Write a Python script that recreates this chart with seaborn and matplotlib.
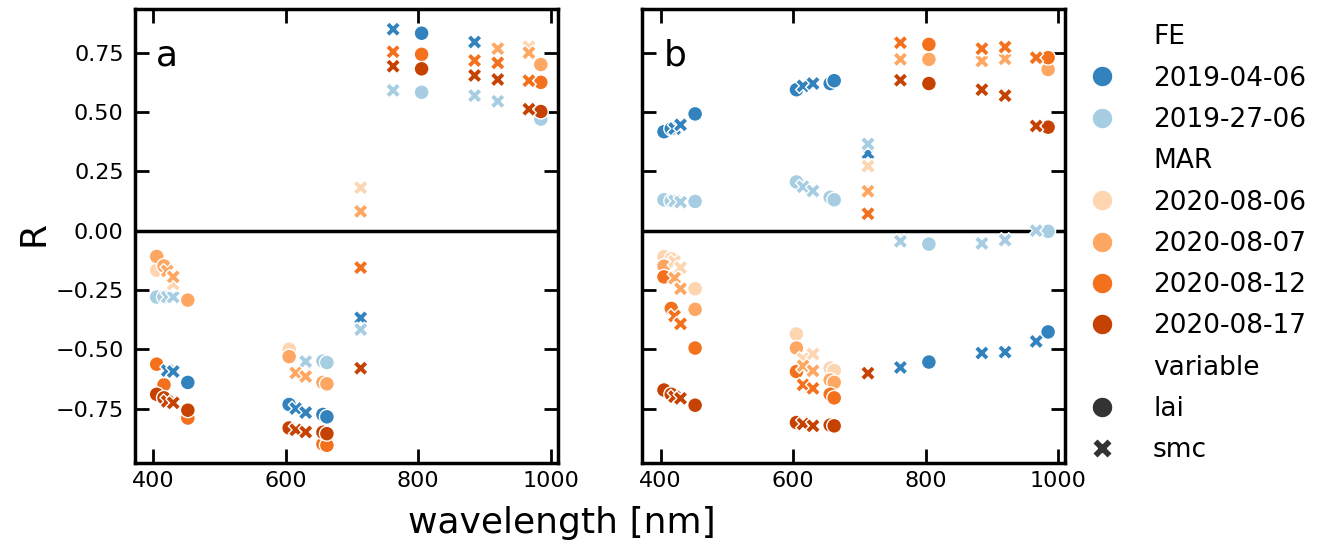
import numpy as np
import pandas as pd
import seaborn as sns
import matplotlib.pyplot as plt
from matplotlib.lines import Line2D

nan = np.nan

# hue levels and their colours
dates = ['2019-04-06', '2019-27-06', '2020-08-06', '2020-08-07', '2020-08-12', '2020-08-17']
colors = ['#3182bd', '#a6cde2', '#fdd5b0', '#fda762', '#f3711c', '#c64203']

# band centres used by each variable
wl_lai = [405, 416, 452, 605, 656, 662, 805, 985]
wl_smc = [421, 430, 615, 630, 713, 762, 885, 920, 967]

# panel a: one row per date (same order as `dates`)
a_lai = [
    [nan, nan, -0.640, -0.733, -0.775, -0.785, 0.832, nan],
    [-0.280, -0.280, nan, nan, -0.550, -0.556, 0.583, 0.470],
    [-0.167, nan, nan, -0.500, nan, nan, nan, nan],
    [-0.109, -0.149, -0.293, -0.531, -0.640, -0.646, nan, 0.700],
    [-0.563, -0.650, -0.790, nan, -0.900, -0.905, 0.743, 0.625],
    [-0.690, -0.705, -0.757, -0.832, -0.850, -0.856, 0.682, 0.502],
]
a_smc = [
    [-0.590, -0.594, -0.750, -0.767, -0.368, 0.849, 0.795, nan, nan],
    [-0.280, -0.280, nan, -0.552, -0.417, 0.591, 0.569, 0.545, nan],
    [nan, -0.225, nan, nan, 0.181, nan, nan, nan, 0.775],
    [-0.170, -0.195, -0.600, -0.615, 0.081, nan, nan, 0.767, 0.750],
    [nan, nan, nan, nan, -0.156, 0.754, 0.717, 0.707, 0.632],
    [-0.720, -0.726, -0.840, -0.849, -0.580, 0.693, 0.654, 0.637, 0.512],
]

# panel b
b_lai = [
    [0.417, 0.430, 0.492, 0.594, 0.620, 0.632, -0.554, -0.427],
    [0.130, 0.125, 0.123, 0.205, 0.140, 0.130, -0.057, -0.003],
    [-0.110, -0.119, -0.245, -0.436, -0.580, -0.590, nan, nan],
    [-0.150, -0.198, -0.332, -0.495, -0.630, -0.640, 0.722, 0.679],
    [-0.195, -0.328, -0.495, -0.594, -0.690, -0.705, 0.785, 0.729],
    [-0.672, -0.690, -0.736, -0.809, -0.820, -0.823, 0.620, 0.436],
]
b_smc = [
    [0.430, 0.446, 0.610, 0.620, 0.326, -0.577, -0.516, -0.512, -0.467],
    [0.125, 0.120, 0.185, 0.167, 0.365, -0.045, -0.054, -0.040, 0.000],
    [-0.130, -0.156, -0.540, -0.520, 0.272, nan, nan, nan, nan],
    [-0.200, -0.245, -0.570, -0.591, 0.166, 0.722, 0.715, 0.724, nan],
    [-0.360, -0.393, -0.650, -0.665, 0.071, 0.792, 0.767, 0.774, 0.729],
    [-0.700, -0.707, -0.815, -0.823, -0.601, 0.634, 0.594, 0.569, 0.441],
]


def make_df(lai, smc):
    rows = []
    for var, wls, vals in [('lai', wl_lai, lai), ('smc', wl_smc, smc)]:
        for d, row in zip(dates, vals):
            for w, v in zip(wls, row):
                rows.append((w, v, d, var))
    df = pd.DataFrame(rows, columns=['wavelength', 'R', 'date', 'variable'])
    return df.dropna()


sns.set_style('ticks', {'axes.edgecolor': 'black', 'text.color': 'black',
                        'xtick.color': 'black', 'ytick.color': 'black',
                        'axes.labelcolor': 'black'})
plt.rcParams['font.family'] = ['DejaVu Sans']

palette = dict(zip(dates, colors))
markers = {'lai': 'o', 'smc': 'X'}

fig = plt.figure(figsize=(13.35, 5.5), dpi=100)
ax_a = fig.add_axes([0.101, 0.158, 0.317, 0.826])
ax_b = fig.add_axes([0.481, 0.158, 0.317, 0.826], sharey=ax_a)

for ax, lai, smc, tag in [(ax_a, a_lai, a_smc, 'a'), (ax_b, b_lai, b_smc, 'b')]:
    df = make_df(lai, smc)
    sns.scatterplot(data=df, x='wavelength', y='R', hue='date', style='variable',
                    hue_order=dates, style_order=['lai', 'smc'], palette=palette,
                    markers=markers, s=115, linewidth=1, edgecolor='white',
                    legend=False, ax=ax)
    ax.axhline(0, color='black', lw=2.5, zorder=0)
    ax.set_xlim(372, 1011)
    ax.set_xticks([400, 600, 800, 1000])
    ax.set_xlabel('')
    ax.set_ylabel('')
    ax.tick_params(direction='in', length=10, width=2, top=True, right=True,
                   labelsize=16, pad=6)
    for sp in ax.spines.values():
        sp.set_linewidth(2.5)
    ax.text(0.05, 0.935, tag, transform=ax.transAxes, fontsize=26, va='top')

ax_a.set_ylim(-0.98, 0.935)
ax_a.set_yticks([-0.75, -0.5, -0.25, 0, 0.25, 0.5, 0.75])
ax_a.tick_params(axis='y', pad=8)
ax_b.tick_params(labelleft=False)

fig.text(562 / 1335, 0.05, 'wavelength [nm]', fontsize=26, ha='center', va='center')
fig.text(0.025, 0.575, 'R', fontsize=26, rotation=90, ha='center', va='center')

# legend with group headers
blank = Line2D([], [], linestyle='none', marker=None)
handles, labels = [], []
groups = [('FE', dates[:2], colors[:2]), ('MAR', dates[2:], colors[2:])]
for title, ds, cs in groups:
    handles.append(blank)
    labels.append(title)
    for d, c in zip(ds, cs):
        handles.append(Line2D([], [], linestyle='none', marker='o', markersize=15,
                              markerfacecolor=c, markeredgecolor='white'))
        labels.append(d)
handles.append(blank)
labels.append('variable')
for v in ['lai', 'smc']:
    handles.append(Line2D([], [], linestyle='none', marker=markers[v], markersize=15,
                          markerfacecolor='#333333', markeredgecolor='white'))
    labels.append(v)

fig.legend(handles, labels, loc='upper left', bbox_to_anchor=(1070 / 1335, 0.975),
           frameon=False, fontsize=19, labelspacing=0.58, handletextpad=1.15,
           handlelength=1.6, borderaxespad=0)

fig.savefig('out.png', dpi=100)
